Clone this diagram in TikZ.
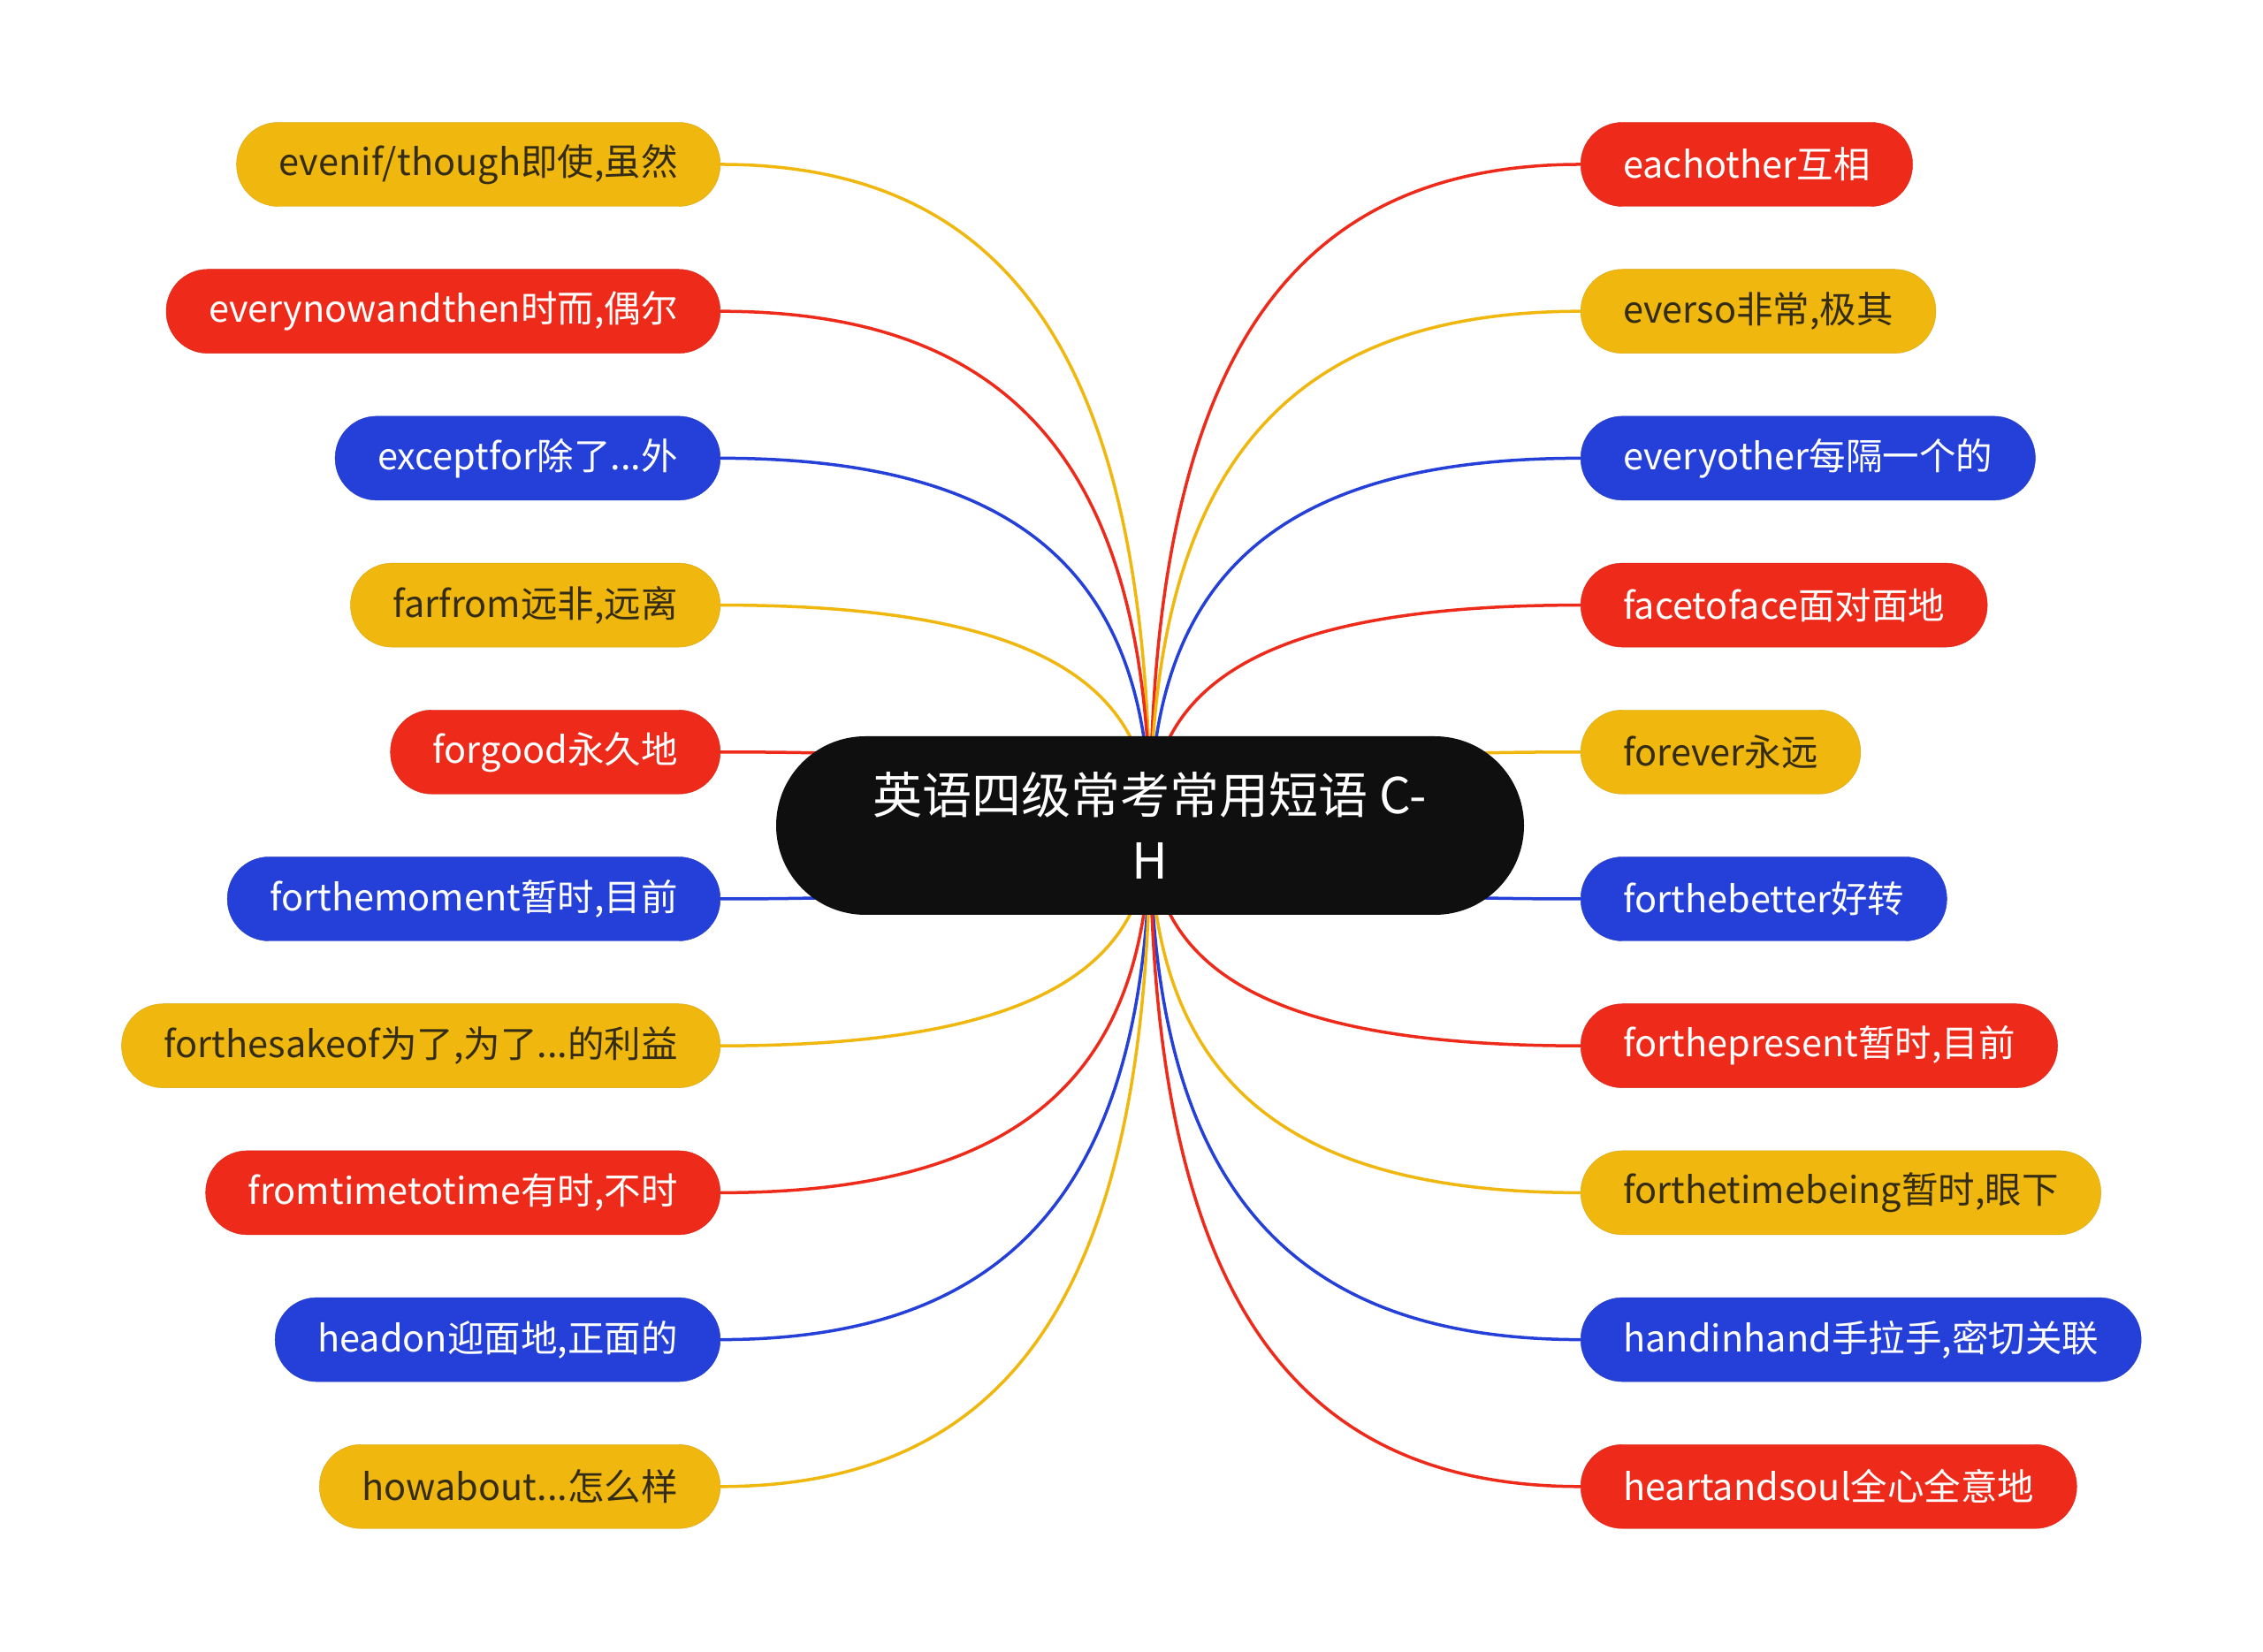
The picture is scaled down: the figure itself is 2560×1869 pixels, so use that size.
\documentclass[tikz,border=0pt]{standalone}
\usepackage{fontspec}
\setmainfont{Noto Sans CJK SC}
\usepackage{tikz}
\usetikzlibrary{calc, backgrounds}
\definecolor{mapyellow}{RGB}{240, 183, 14}
\definecolor{mapred}{RGB}{238, 42, 26}
\definecolor{mapblue}{RGB}{37, 64, 216}
\definecolor{mapdark}{RGB}{15, 15, 15}
\definecolor{mapink}{RGB}{52, 44, 20}
\tikzset{
  hub/.style={rectangle, fill=mapdark, text=white, rounded corners=101pt,
    minimum width=846pt, minimum height=202pt, align=center,
    font=\fontsize{56}{74}\selectfont},
  leaf/.style={rectangle, rounded corners=47pt, minimum height=95pt,
    inner xsep=48pt, inner ysep=0pt, font=\fontsize{41.5}{44}\selectfont},
  yellowleaf/.style={leaf, fill=mapyellow, draw=mapyellow!90!black, text=mapink},
  redleaf/.style={leaf, fill=mapred, draw=mapred!90!black, text=white},
  blueleaf/.style={leaf, fill=mapblue, draw=mapblue!90!black, text=white},
  spoke/.style={line width=3.5pt, to path={.. controls ($(\tikztostart)!0.68!(\tikztostart -| \tikztotarget)$)
    and ($(\tikztotarget)!0.7!(\tikztotarget |- \tikztostart)$) .. (\tikztotarget)}}
}

\begin{document}
\begin{tikzpicture}[x=1pt, y=1pt]
    \useasboundingbox (0,0) rectangle (2560,1869);

    \node[hub] (c) at (1301,935) {英语四级常考常用短语 C-\\H};

    % left side
    \node[yellowleaf, anchor=east] (l1) at (815,1683) {evenif/though即使,虽然};
    \node[redleaf, anchor=east] (l2) at (815,1516.8) {everynowandthen时而,偶尔};
    \node[blueleaf, anchor=east] (l3) at (815,1350.6) {exceptfor除了...外};
    \node[yellowleaf, anchor=east] (l4) at (815,1184.4) {farfrom远非,远离};
    \node[redleaf, anchor=east] (l5) at (815,1018.2) {forgood永久地};
    \node[blueleaf, anchor=east] (l6) at (815,852) {forthemoment暂时,目前};
    \node[yellowleaf, anchor=east] (l7) at (815,685.8) {forthesakeof为了,为了...的利益};
    \node[redleaf, anchor=east] (l8) at (815,519.6) {fromtimetotime有时,不时};
    \node[blueleaf, anchor=east] (l9) at (815,353.4) {headon迎面地,正面的};
    \node[yellowleaf, anchor=east] (l10) at (815,187.2) {howabout...怎么样};

    % right side
    \node[redleaf, anchor=west] (r1) at (1788,1683) {eachother互相};
    \node[yellowleaf, anchor=west] (r2) at (1788,1516.8) {everso非常,极其};
    \node[blueleaf, anchor=west] (r3) at (1788,1350.6) {everyother每隔一个的};
    \node[redleaf, anchor=west] (r4) at (1788,1184.4) {facetoface面对面地};
    \node[yellowleaf, anchor=west] (r5) at (1788,1018.2) {forever永远};
    \node[blueleaf, anchor=west] (r6) at (1788,852) {forthebetter好转};
    \node[redleaf, anchor=west] (r7) at (1788,685.8) {forthepresent暂时,目前};
    \node[yellowleaf, anchor=west] (r8) at (1788,519.6) {forthetimebeing暂时,眼下};
    \node[blueleaf, anchor=west] (r9) at (1788,353.4) {handinhand手拉手,密切关联};
    \node[redleaf, anchor=west] (r10) at (1788,187.2) {heartandsoul全心全意地};

    \begin{scope}[on background layer]
      \fill[white] (0,0) rectangle (2560,1869);
      \draw[spoke, mapyellow] (l1.east) to (c.center);
      \draw[spoke, mapred] (l2.east) to (c.center);
      \draw[spoke, mapblue] (l3.east) to (c.center);
      \draw[spoke, mapyellow] (l4.east) to (c.center);
      \draw[spoke, mapred] (l5.east) to (c.center);
      \draw[spoke, mapblue] (l6.east) to (c.center);
      \draw[spoke, mapyellow] (l7.east) to (c.center);
      \draw[spoke, mapred] (l8.east) to (c.center);
      \draw[spoke, mapblue] (l9.east) to (c.center);
      \draw[spoke, mapyellow] (l10.east) to (c.center);
      \draw[spoke, mapred] (r1.west) to (c.center);
      \draw[spoke, mapyellow] (r2.west) to (c.center);
      \draw[spoke, mapblue] (r3.west) to (c.center);
      \draw[spoke, mapred] (r4.west) to (c.center);
      \draw[spoke, mapyellow] (r5.west) to (c.center);
      \draw[spoke, mapblue] (r6.west) to (c.center);
      \draw[spoke, mapred] (r7.west) to (c.center);
      \draw[spoke, mapyellow] (r8.west) to (c.center);
      \draw[spoke, mapblue] (r9.west) to (c.center);
      \draw[spoke, mapred] (r10.west) to (c.center);
    \end{scope}
\end{tikzpicture}
\end{document}
